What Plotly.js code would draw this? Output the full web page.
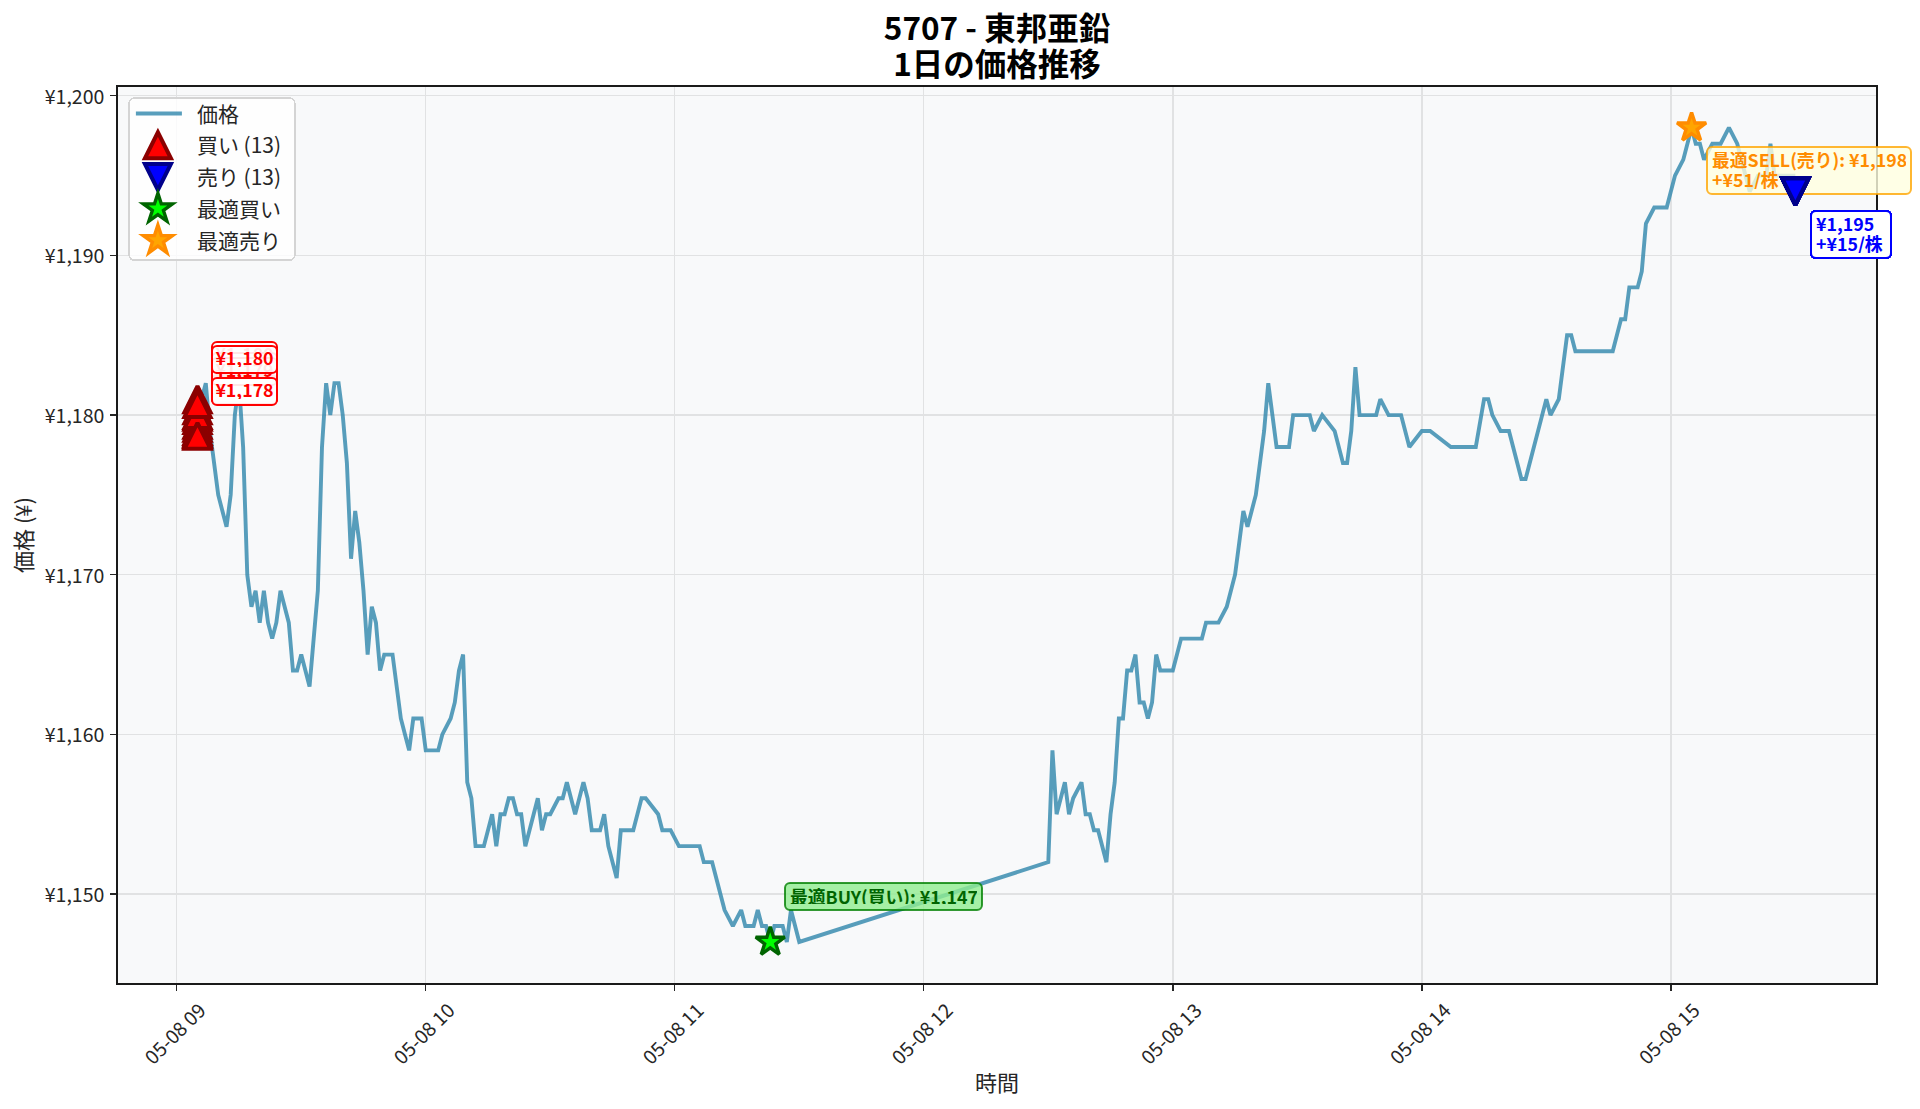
<!DOCTYPE html>
<html><head><meta charset="utf-8">
<script src="https://cdn.plot.ly/plotly-3.0.1.min.js"></script>
<style>html,body{margin:0;padding:0;background:#fff}</style></head>
<body><div id="chart" style="width:1920px;height:1109px"></div>
<script>
// minutes after 09:00 on 05-08 and price at that minute (vertices of the line)
const priceMinutes = [5,7,8,9,10,12,13,14,15,16,17,18,19,20,21,22,23,24,25,27,28,29,30,32,34,35,36,37,38,39,40,41,42,43,44,45,46,47,48,49,50,52,53,54,55,56,57,59,60,63,64,66,67,68,69,70,71,72,74,76,77,78,79,80,81,82,83,84,87,88,89,90,92,93,94,96,98,99,100,102,103,104,106,107,110,112,113,116,117,119,121,126,127,129,132,134,136,137,139,140,141,142,143,144,146,147,148,150,210,211,212,214,215,216,218,219,220,221,222,224,225,226,227,228,229,230,231,232,233,234,235,236,237,240,242,247,248,249,251,253,255,257,258,260,261,262,263,265,268,269,273,274,276,279,281,282,283,284,285,289,290,292,295,297,300,302,307,313,315,316,317,319,321,324,325,327,330,331,333,335,336,337,346,348,349,350,352,353,354,356,359,361,363,365,366,367,368,370,372,374,376,377,379,381,383,384,385,389,390];
const priceValues  = [1180,1182,1179,1177,1175,1173,1175,1180,1182,1178,1170,1168,1169,1167,1169,1167,1166,1167,1169,1167,1164,1164,1165,1163,1169,1178,1182,1180,1182,1182,1180,1177,1171,1174,1172,1169,1165,1168,1167,1164,1165,1165,1163,1161,1160,1159,1161,1161,1159,1159,1160,1161,1162,1164,1165,1157,1156,1153,1153,1155,1153,1155,1155,1156,1156,1155,1155,1153,1156,1154,1155,1155,1156,1156,1157,1155,1157,1156,1154,1154,1155,1153,1151,1154,1154,1156,1156,1155,1154,1154,1153,1153,1152,1152,1149,1148,1149,1148,1148,1149,1148,1148,1147,1148,1148,1147,1149,1147,1152,1159,1155,1157,1155,1156,1157,1155,1155,1154,1154,1152,1155,1157,1161,1161,1164,1164,1165,1162,1162,1161,1162,1165,1164,1164,1166,1166,1167,1167,1167,1168,1170,1174,1173,1175,1177,1179,1182,1178,1178,1180,1180,1179,1180,1179,1177,1177,1179,1183,1180,1180,1181,1180,1180,1178,1179,1179,1178,1178,1181,1181,1180,1179,1179,1176,1176,1178,1181,1180,1181,1185,1185,1184,1184,1186,1186,1188,1188,1189,1192,1193,1193,1195,1196,1198,1197,1197,1196,1197,1197,1198,1197,1196,1194,1195,1195,1197,1195,1195,1195];

const buyMinutes = [5,5,5,5,5,5,5,5,5,5,5,5,5];
const buyPrices  = [1181.0,1179.9,1179.4,1179.0,1178.8,1180.3,1179.7,1179.2,1178.9,1178.8,1180.0,1180.7,1178.7];
const buyLabels  = ['¥1,180','¥1,179','¥1,179','¥1,178','¥1,178','¥1,180','¥1,179','¥1,179','¥1,178','¥1,178','¥1,179','¥1,180','¥1,178'];

const sellMinutes = [390,390,390,390,390,390,390,390,390,390,390,390,390];
const sellPrices  = [1194,1194,1194,1194,1194,1194,1194,1194,1194,1194,1194,1194,1194];
const sellLabels  = ['¥1,195<br>+¥15/株','¥1,195<br>+¥15/株','¥1,195<br>+¥15/株','¥1,195<br>+¥15/株','¥1,195<br>+¥15/株','¥1,195<br>+¥15/株','¥1,195<br>+¥15/株','¥1,195<br>+¥15/株','¥1,195<br>+¥15/株','¥1,195<br>+¥15/株','¥1,195<br>+¥15/株','¥1,195<br>+¥15/株','¥1,195<br>+¥15/株'];

const bestBuyMinute = 143,  bestBuyPrice = 1147,  bestBuyLabel = '最適BUY(買い): ¥1,147';
const bestSellMinute = 365, bestSellPrice = 1198, bestSellLabel = '最適SELL(売り): ¥1,198<br>+¥51/株';

const FONT = '"Noto Sans CJK JP","Noto Sans",sans-serif';
const INK = '#262626';
const t = m => {
  const h = Math.floor(m / 60) + 9, mm = m % 60;
  return '2025-05-08 ' + String(h).padStart(2,'0') + ':' + String(mm).padStart(2,'0') + ':00';
};
const markerTrace = (name, xs, ys, symbol, fill, edge, lw) => ({
  type:'scatter', mode:'markers', name, x:xs.map(t), y:ys, legendgroup:name, cliponaxis:false,
  marker:{symbol, size:24, color:fill, line:{color:edge, width:lw}}, hoverinfo:'skip'
});
const traces = [
  {type:'scatter', mode:'lines', name:'価格', legendgroup:'価格', x:priceMinutes.map(t), y:priceValues,
   line:{color:'rgba(46,134,171,0.8)', width:3.9, shape:'linear'}, hoverinfo:'skip'},
  markerTrace('買い (13)', buyMinutes, buyPrices, 'triangle-up', '#ff0000', '#8b0000', 4),
  markerTrace('売り (13)', sellMinutes, sellPrices, 'triangle-down', '#0000ff', '#00008b', 4),
  markerTrace('最適買い', [bestBuyMinute], [bestBuyPrice], 'star', '#00ff00', '#006400', 3.4),
  markerTrace('最適売り', [bestSellMinute], [bestSellPrice], 'star', '#ffa500', '#ff8c00', 3.4)
];
const note = (m, y, text, opt) => Object.assign({
  x:t(m), y, text, xref:'x', yref:'y', showarrow:false, xanchor:'left', yanchor:'middle', align:'left',
  borderpad:4, borderwidth:2
}, opt);
const labelFont = color => ({family:FONT,size:17.8,weight:700,color});
const annotations = [
  ...buyMinutes.map((m,i)=>note(m,buyPrices[i],buyLabels[i],{xshift:14,yshift:44,width:59,height:21,borderpad:2,align:'center',bgcolor:'rgba(255,255,255,0.9)',bordercolor:'#ff0000',font:labelFont('#ff0000')})),
  ...sellMinutes.map((m,i)=>note(m,sellPrices[i],sellLabels[i],{xshift:14.5,yshift:-43.3,width:70,height:37,bgcolor:'rgba(255,255,255,0.9)',bordercolor:'#0000ff',font:labelFont('#0000ff')})),
  note(bestBuyMinute,bestBuyPrice,bestBuyLabel,{xshift:14,yshift:45,width:187,height:17,bgcolor:'rgba(144,238,144,0.8)',bordercolor:'rgba(0,128,0,0.8)',font:labelFont('#006400')}),
  note(bestSellMinute,bestSellPrice,bestSellLabel,{xshift:14.5,yshift:-42.6,width:194,height:37,bgcolor:'rgba(255,255,224,0.8)',bordercolor:'rgba(255,165,0,0.8)',font:labelFont('#ff8c00')})
];
const axisCommon = {
  showline:true, mirror:true, linecolor:'#1a1a1a', linewidth:1.8, ticks:'outside', ticklen:6, tickwidth:1.4, tickcolor:INK,
  showgrid:true, gridcolor:'#e1e2e3', gridwidth:1.4, zeroline:false, tickfont:{family:FONT,size:19.5,color:INK}
};
const layout = {
  width:1920, height:1109, autosize:false, paper_bgcolor:'#ffffff', plot_bgcolor:'#f8f9fa',
  margin:{l:118,r:44,t:87,b:126},
  font:{family:FONT,color:INK},
  title:{text:'5707 - 東邦亜鉛<br>1日の価格推移', font:{family:FONT,size:31.5,weight:700,color:'#000'}, xref:'paper', x:0.5, xanchor:'center', yref:'container', y:0.9638, yanchor:'top'},
  xaxis:Object.assign({},axisCommon,{type:'date', range:['2025-05-08 08:45:51','2025-05-08 15:49:26'], tick0:'2025-05-08 09:00:00', dtick:3600000, tickformat:'%m-%d %H', tickangle:-45, title:{text:'時間',font:{family:FONT,size:22,color:INK},standoff:7}}),
  yaxis:Object.assign({},axisCommon,{range:[1144.43,1200.55], dtick:10, tickprefix:'¥', tickformat:',d', ticklabelstandoff:2, title:{text:'価格 (¥)',font:{family:FONT,size:22,color:INK},standoff:5.5}}),
  legend:{x:0.00586,y:0.9885,xanchor:'left',yanchor:'top',bgcolor:'rgba(255,255,255,0.8)',bordercolor:'#d4d4d4',borderwidth:1.6,font:{family:FONT,size:21,color:INK},traceorder:'grouped',tracegroupgap:1.4,itemwidth:58},
  annotations
};
const triUp = 'M-13,13H13L0,-13Z', triDown = 'M-13,-13H13L0,13Z';
const star = () => { let p=''; for(let i=0;i<10;i++){ const r=i%2?5.85:15.3, a=-Math.PI/2+i*Math.PI/5; p+=(i?'L':'M')+(r*Math.cos(a)).toFixed(2)+','+(r*Math.sin(a)).toFixed(2);} return p+'Z'; };
const shapeFor = i => i===1?triUp : i===2?triDown : star();

Plotly.newPlot('chart', traces, layout, {staticPlot:true}).then(gd => {
  // marker outlines: matplotlib-like tall triangles and slim stars
  const sc = gd.querySelectorAll('.scatterlayer .trace');
  sc.forEach((g,i)=>{ g.querySelectorAll('path.point').forEach(p=>p.setAttribute('d',shapeFor(i))); });
  gd.querySelectorAll('.legend .traces').forEach((g,i)=>{
    const ln=g.querySelector('.legendlines path'); if(ln) ln.setAttribute('d','M7,0h46');
    const pt=g.querySelector('path.scatterpts');
    if(pt){ pt.setAttribute('d',shapeFor(i)); pt.setAttribute('transform','translate(29,0)'); pt.style.strokeWidth=(i<3?4:3.4)+'px'; }
  });
  // rounded boxes, tighter line spacing, label text nudged into its box
  gd.querySelectorAll('.annotation rect.bg').forEach(r=>{r.setAttribute('rx',5);r.setAttribute('ry',5);});
  gd.querySelectorAll('.annotation tspan.line').forEach(s=>{ if(s.getAttribute('dy')&&parseFloat(s.getAttribute('dy'))>0) s.setAttribute('dy','1.12em'); });
  gd.querySelectorAll('.gtitle tspan.line').forEach(s=>{ if(s.getAttribute('dy')&&parseFloat(s.getAttribute('dy'))>0) s.setAttribute('dy','1.15em'); });
  gd.querySelectorAll('.annotation text.annotation-text').forEach((tx,i)=>{
    if(i<buyMinutes.length) tx.setAttribute('transform','translate(0,-3)');
    else if(i===buyMinutes.length+sellMinutes.length) tx.setAttribute('transform','translate(0,-1)');
  });
  const lb=gd.querySelector('.legend rect.bg');
  if(lb){lb.setAttribute('rx',5);lb.setAttribute('ry',5);lb.setAttribute('width',165.7);lb.setAttribute('height',162);}
  const sb=gd.querySelector('.legend .scrollbox');
  if(sb){sb.removeAttribute('clip-path');sb.style.clipPath='none';sb.setAttribute('transform','translate(-1,-5.5)');}
  // centre rotated x tick labels on their ticks
  gd.querySelectorAll('.xaxislayer-above .xtick text').forEach(tx=>{
    tx.setAttribute('transform','translate(23.5,0.5) '+(tx.getAttribute('transform')||''));
  });
  gd.querySelectorAll('.yaxislayer-above .ytick text').forEach(tx=>{
    tx.setAttribute('transform','translate(0,1) '+(tx.getAttribute('transform')||''));
  });
  // sell markers sit above the best-sell box
  const info=gd.querySelector('.infolayer');
  const top=document.createElementNS('http://www.w3.org/2000/svg','g');
  top.setAttribute('transform','translate(118,87)');
  top.appendChild(sc[2]);
  info.appendChild(top);
});
</script></body></html>
